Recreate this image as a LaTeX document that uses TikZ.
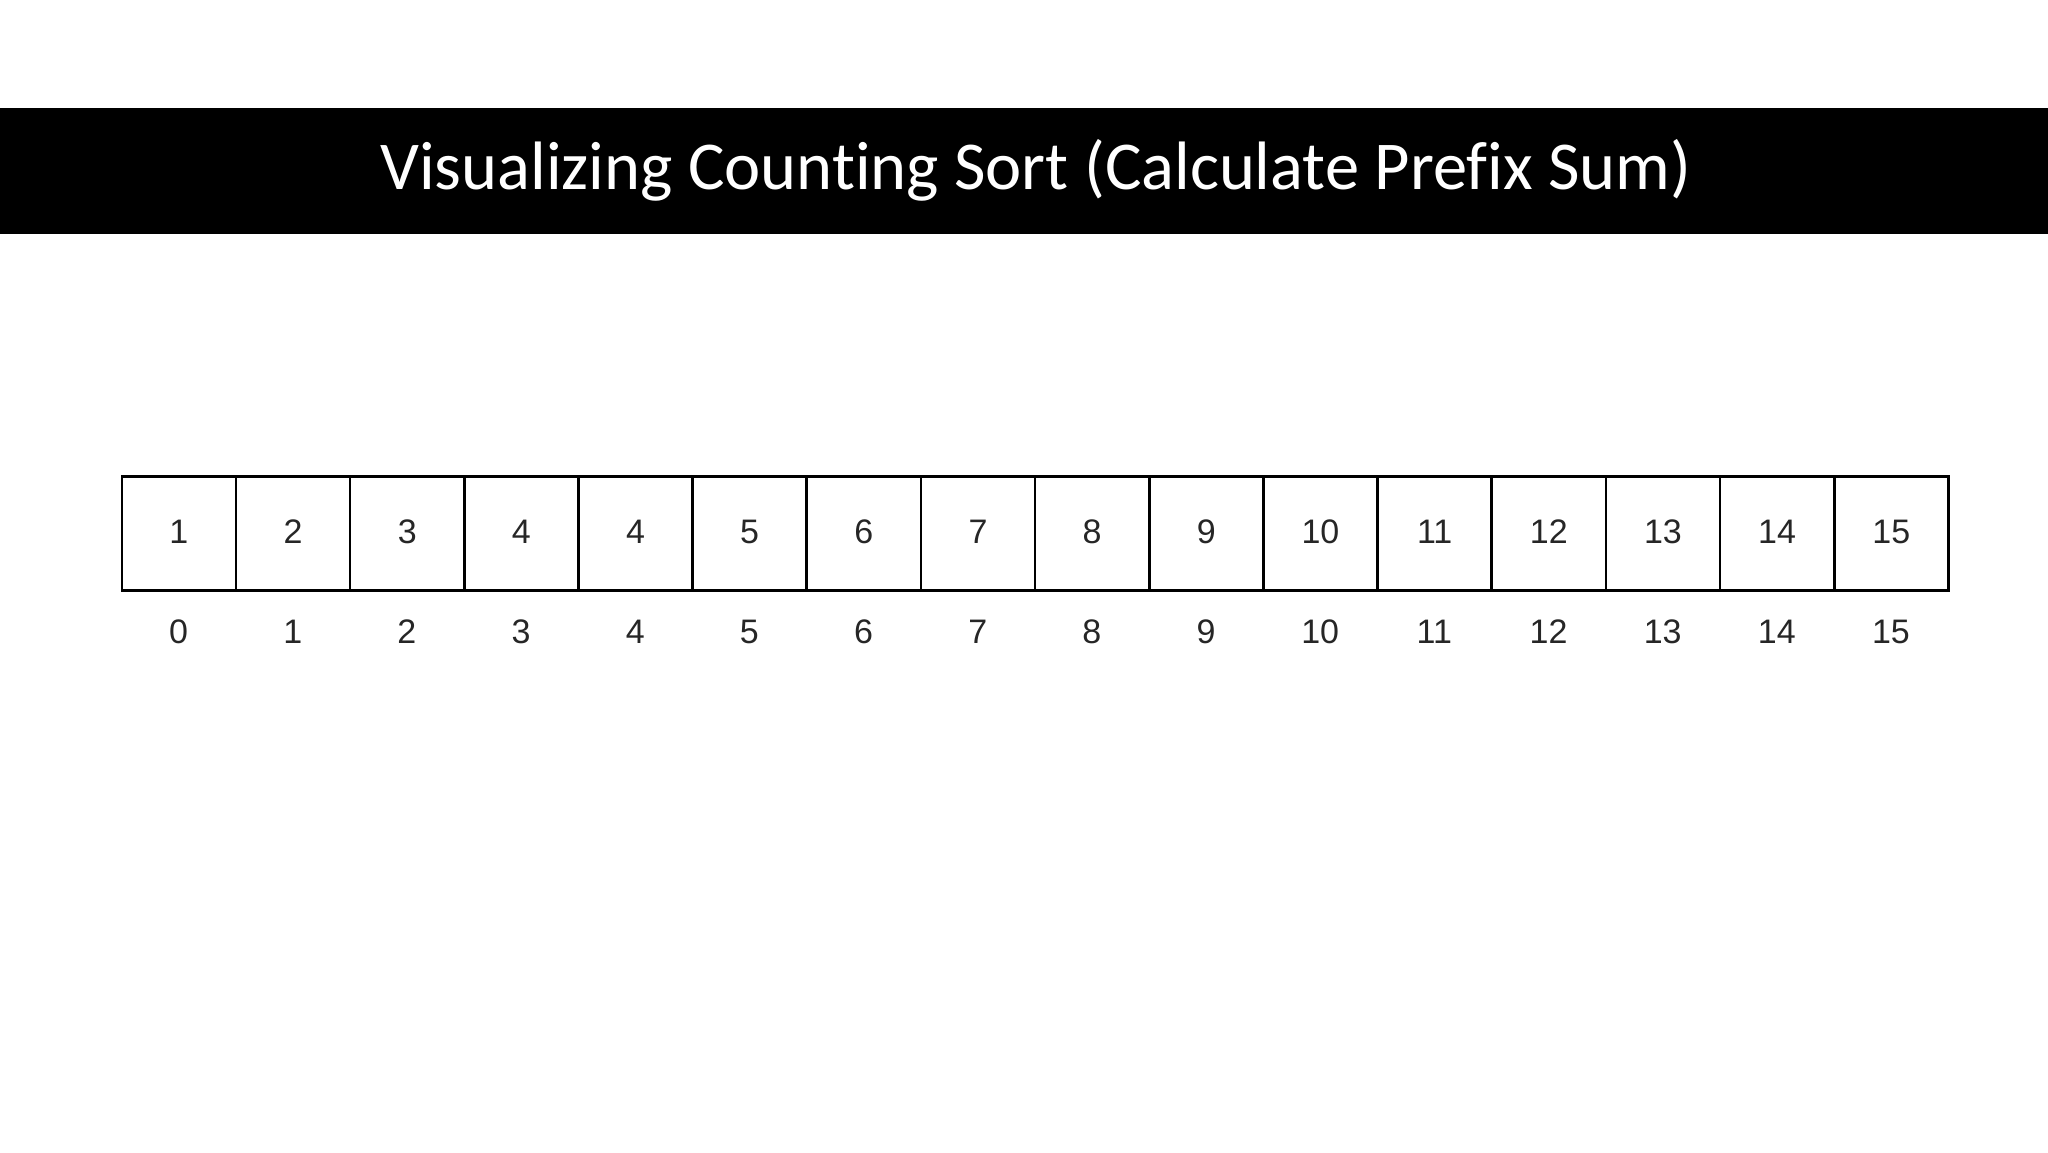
\documentclass[tikz,border=0pt]{standalone}
\usepackage{fontspec}
\setmainfont{Liberation Sans}
\newfontfamily\titlefont[Ligatures=NoCommon]{Carlito}
\begin{document}
\begin{tikzpicture}[x=1pt,y=-1pt,
  cellbox/.style={draw=black,line width=2.6pt,minimum width=114.16pt,minimum height=114pt,inner sep=0pt,anchor=north west,font=\fontsize{34}{34}\selectfont,text=black!85},
  idxlabel/.style={font=\fontsize{34}{34}\selectfont,text=black!85,inner sep=0pt}]
\useasboundingbox (0,0) rectangle (2048,1152);
\fill[white] (0,0) rectangle (2048,1152);
\fill[black] (0,108) rectangle (2048,234);
\node[text=white,inner sep=0pt] (title) at (1036,170) {\titlefont\fontsize{68.5}{68.5}\selectfont Visualizing Counting Sort (Calculate Prefix Sum)};
\foreach \v [count=\i from 0] in {1,2,3,4,4,5,6,7,8,9,10,11,12,13,14,15} {
  \node[cellbox] (c\i) at ({120.5+\i*114.16},475) {\raisebox{3.5pt}{\v}};
  \node[idxlabel] (i\i) at ({120.5+\i*114.16+57.08+1},631.5) {\i};
}
\end{tikzpicture}
\end{document}
